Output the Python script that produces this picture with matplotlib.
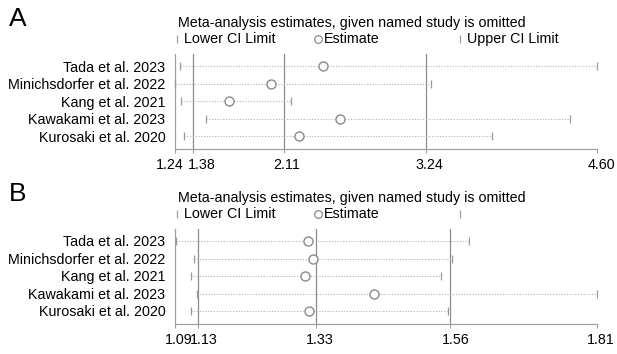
import matplotlib
matplotlib.use("Agg")
import matplotlib.pyplot as plt
from matplotlib.lines import Line2D
from matplotlib.transforms import ScaledTranslation

plt.rcParams['font.family'] = ['Liberation Sans', 'DejaVu Sans']

studies = ['Tada et al. 2023', 'Minichsdorfer et al. 2022', 'Kang et al. 2021',
           'Kawakami et al. 2023', 'Kurosaki et al. 2020']

# panel A: leave-one-out estimates
a_lower = [1.278, 1.24, 1.29, 1.487, 1.315]
a_est = [2.42, 2.007, 1.672, 2.552, 2.226]
a_upper = [4.60, 3.28, 2.167, 4.384, 3.76]
a_overall = [1.38, 2.11, 3.24]
a_ticks = [1.24, 1.38, 2.11, 3.24, 4.60]
a_shift = [-5, 9.5, 2.5, 3.5, 4]  # px nudges so crowded labels stay apart

# panel B: leave-one-out estimates
b_lower = [1.091, 1.123, 1.117, 1.128, 1.117]
b_est = [1.317, 1.325, 1.312, 1.429, 1.318]
b_upper = [1.592, 1.563, 1.543, 1.81, 1.556]
b_overall = [1.13, 1.33, 1.56]
b_ticks = [1.09, 1.13, 1.33, 1.56, 1.81]
b_shift = [3.5, 5, 4, 5, 4]

W, H = 617, 354
fig = plt.figure(figsize=(W / 100, H / 100), dpi=100)

LINE = '#8c8c8c'
DOT = '#b4b4b4'
SPINE = '#a0a0a0'
FS = 10.3


def px(x, y):
    return x / W, 1 - y / H


def panel(letter, top, lower, est, upper, overall, ticks, shifts, upper_label):
    # top = y pixel of the title line
    first_row = top + 43
    step = 17.5
    axis_y = first_row + 4 * step + 13
    line_top = first_row - 12
    x0, x1 = 175, 597
    ax = fig.add_axes([x0 / W, 1 - axis_y / H, (x1 - x0) / W, (axis_y - line_top) / H])
    rows = list(range(1, 6))
    ax.set_xlim(ticks[0], ticks[-1])
    ax.set_ylim(5 + 13 / step, 1 - 12 / step)

    for v in overall:
        ax.axvline(v, color=LINE, lw=0.9, zorder=1)
    for y, lo, m, hi in zip(rows, lower, est, upper):
        ax.plot([lo, hi], [y, y], ls=(0, (1, 1.5)), color=DOT, lw=0.8, zorder=2)
        ax.plot([lo, hi], [y, y], ls='none', marker='|', ms=6, mew=0.9,
                color='#9a9a9a', zorder=3, clip_on=False)
        ax.plot([m], [y], ls='none', marker='o', ms=6.5, mfc='white',
                mec='#8a8a8a', mew=1.0, zorder=4, clip_on=False)

    ax.set_yticks(rows)
    ax.set_yticklabels(studies, fontsize=FS)
    ax.set_xticks(ticks)
    ax.set_xticklabels([])
    # x labels drawn by hand so neighbouring ones can be nudged apart
    for t, dx in zip(ticks, shifts):
        tr = ax.get_xaxis_transform() + ScaledTranslation(dx / 100, -15.5 / 100,
                                                          fig.dpi_scale_trans)
        ax.text(t, 0, '%.2f' % t, transform=tr, ha='center', va='center',
                fontsize=FS, clip_on=False)
    ax.tick_params(axis='y', length=0, pad=7)
    ax.tick_params(axis='x', length=3, direction='out', color=SPINE)
    for s in ['top', 'right']:
        ax.spines[s].set_visible(False)
    for s in ['left', 'bottom']:
        ax.spines[s].set_color(SPINE)
        ax.spines[s].set_linewidth(0.9)

    # panel letter and header text
    fig.text(*px(9, top - 4), letter, fontsize=19, va='center', ha='left')
    fig.text(*px(178, top), 'Meta-analysis estimates, given named study is omitted',
             fontsize=FS, va='center', ha='left')
    ly = top + 16
    fig.add_artist(Line2D([177 / W], [1 - ly / H], marker='|', ms=6, mew=0.9,
                          color='#a0a0a0', ls='none'))
    fig.text(*px(184, ly), 'Lower CI Limit', fontsize=FS, va='center', ha='left')
    fig.add_artist(Line2D([318 / W], [1 - ly / H], marker='o', ms=5.5, mfc='white',
                          mec='#8a8a8a', mew=0.9, ls='none'))
    fig.text(*px(324, ly), 'Estimate', fontsize=FS, va='center', ha='left')
    fig.add_artist(Line2D([460 / W], [1 - ly / H], marker='|', ms=6, mew=0.9,
                          color='#a0a0a0', ls='none'))
    if upper_label:
        fig.text(*px(467, ly), upper_label, fontsize=FS, va='center', ha='left')
    return ax


panel('A', 23, a_lower, a_est, a_upper, a_overall, a_ticks, a_shift, 'Upper CI Limit')
panel('B', 198, b_lower, b_est, b_upper, b_overall, b_ticks, b_shift, '')

fig.savefig('out.png', dpi=100)
